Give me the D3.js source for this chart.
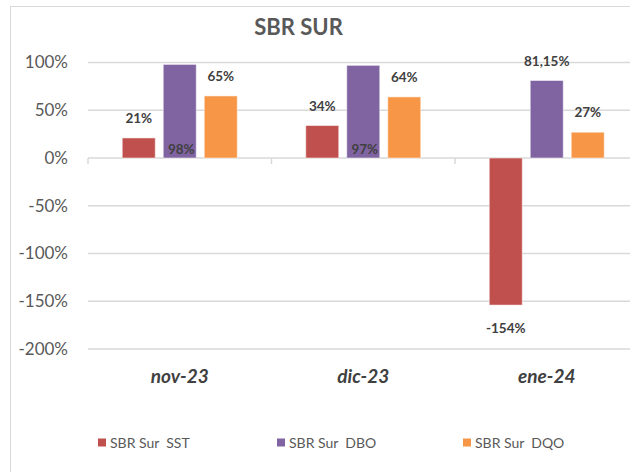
<!DOCTYPE html>
<html>
<head>
<meta charset="utf-8">
<script src="https://cdn.jsdelivr.net/npm/d3@7"></script>
<style>
  body { margin: 0; background: #fff; }
  text { font-family: Lato, "Open Sans", sans-serif; }
</style>
</head>
<body>
<div id="chart"></div>
<script>
// data
var months = ["nov-23", "dic-23", "ene-24"];
var seriesNames = ["SBR Sur  SST", "SBR Sur  DBO", "SBR Sur  DQO"];
var sst = [21, 34, -154];
var dbo = [98, 97, 81.15];
var dqo = [65, 64, 27];
var labelsSst = ["21%", "34%", "-154%"];
var labelsDbo = ["98%", "97%", "81,15%"];
var labelsDqo = ["65%", "64%", "27%"];
// DBO labels of nov and dic sit at the foot of the bar
var dboAtBase = [true, true, false];
var yTicks = [100, 50, 0, -50, -100, -150, -200];
var colors = ["#C0504D", "#8064A2", "#F79646"];

var W = 630, H = 472;
var left = 88, catW = 183.5;

var svg = d3.select("#chart")
  .append("svg")
    .attr("width", W)
    .attr("height", H);

// chart frame (wider than the picture)
svg.append("rect")
  .attr("x", 10.5).attr("y", 6.5)
  .attr("width", 700).attr("height", 600)
  .attr("fill", "#fff")
  .attr("stroke", "#d9d9d9")
  .attr("stroke-width", 1);

var x0 = d3.scaleBand()
  .domain(months)
  .range([left, left + catW * months.length]);

var x1 = d3.scaleBand()
  .domain(seriesNames)
  .range([34.25, 149.25])
  .paddingInner(0.195);

var y = d3.scaleLinear()
  .domain([-200, 100])
  .range([349, 62.5]);

// gridlines
svg.append("g")
  .selectAll("line")
  .data(yTicks)
  .enter().append("line")
    .attr("x1", left)
    .attr("x2", W)
    .attr("y1", function(d) { return y(d); })
    .attr("y2", function(d) { return y(d); })
    .attr("stroke", "#d9d9d9")
    .attr("stroke-width", 1.5);

// y axis labels
var yAxis = svg.append("g")
  .attr("transform", "translate(" + left + ",0)")
  .call(d3.axisLeft(y).tickValues(yTicks).tickSize(0).tickPadding(20)
    .tickFormat(function(d) { return d + "%"; }));
yAxis.select(".domain").remove();
yAxis.selectAll("text")
  .attr("font-family", "Lato, sans-serif")
  .attr("font-size", 17)
  .attr("fill", "#595959");

// category ticks on the zero line
svg.append("g")
  .selectAll("line")
  .data(d3.range(months.length + 1))
  .enter().append("line")
    .attr("x1", function(i) { return left + i * catW; })
    .attr("x2", function(i) { return left + i * catW; })
    .attr("y1", y(0))
    .attr("y2", y(0) + 6)
    .attr("stroke", "#d9d9d9")
    .attr("stroke-width", 1.5);

// bars
var rows = [sst, dbo, dqo];
var labelRows = [labelsSst, labelsDbo, labelsDqo];
var bars = [];
rows.forEach(function(vals, s) {
  vals.forEach(function(v, i) {
    bars.push({ month: months[i], series: seriesNames[s], s: s, i: i, value: v, label: labelRows[s][i] });
  });
});

svg.append("g")
  .selectAll("rect")
  .data(bars)
  .enter().append("rect")
    .attr("x", function(d) { return x0(d.month) + x1(d.series); })
    .attr("width", x1.bandwidth())
    .attr("y", function(d) { return y(Math.max(0, d.value)); })
    .attr("height", function(d) { return Math.abs(y(d.value) - y(0)); })
    .attr("fill", function(d) { return colors[d.s]; })
    .attr("stroke", "#fff")
    .attr("stroke-opacity", 0.5)
    .attr("stroke-width", 1);

// data labels
svg.append("g")
  .selectAll("text")
  .data(bars)
  .enter().append("text")
    .attr("x", function(d) { return x0(d.month) + x1(d.series) + x1.bandwidth() / 2 + (d.s == 1 && dboAtBase[d.i] ? 1.5 : 0); })
    .attr("y", function(d) {
      if (d.s == 1 && dboAtBase[d.i]) return y(0) - 4;
      if (d.value < 0) return y(d.value) + 28;
      return y(d.value) - 15;
    })
    .attr("text-anchor", "middle")
    .attr("font-size", 13.5)
    .attr("font-weight", "bold")
    .attr("fill", "#404040")
    .text(function(d) { return d.label; });

// category labels
svg.append("g")
  .selectAll("text")
  .data(months)
  .enter().append("text")
    .attr("x", function(d) { return x0(d) + x0.bandwidth() / 2; })
    .attr("y", 383)
    .attr("text-anchor", "middle")
    .attr("font-size", 19)
    .attr("font-weight", "bold")
    .attr("font-style", "italic")
    .attr("fill", "#404040")
    .text(function(d) { return d; });

// title
svg.append("text")
  .attr("x", 298.5)
  .attr("y", 35)
  .attr("text-anchor", "middle")
  .attr("font-size", 22)
  .attr("font-weight", "bold")
  .attr("fill", "#595959")
  .text("SBR SUR");

// legend
var legendX = [98, 277, 463];
var legend = svg.append("g")
  .selectAll("g")
  .data(seriesNames)
  .enter().append("g")
    .attr("transform", function(d, i) { return "translate(" + legendX[i] + ",438.5)"; });
legend.append("rect")
  .attr("width", 8).attr("height", 8)
  .attr("fill", function(d, i) { return colors[i]; });
legend.append("text")
  .attr("x", 12)
  .attr("y", 9)
  .attr("font-size", 14)
  .attr("fill", "#595959")
  .style("white-space", "pre")
  .text(function(d) { return d; });
</script>
</body>
</html>
